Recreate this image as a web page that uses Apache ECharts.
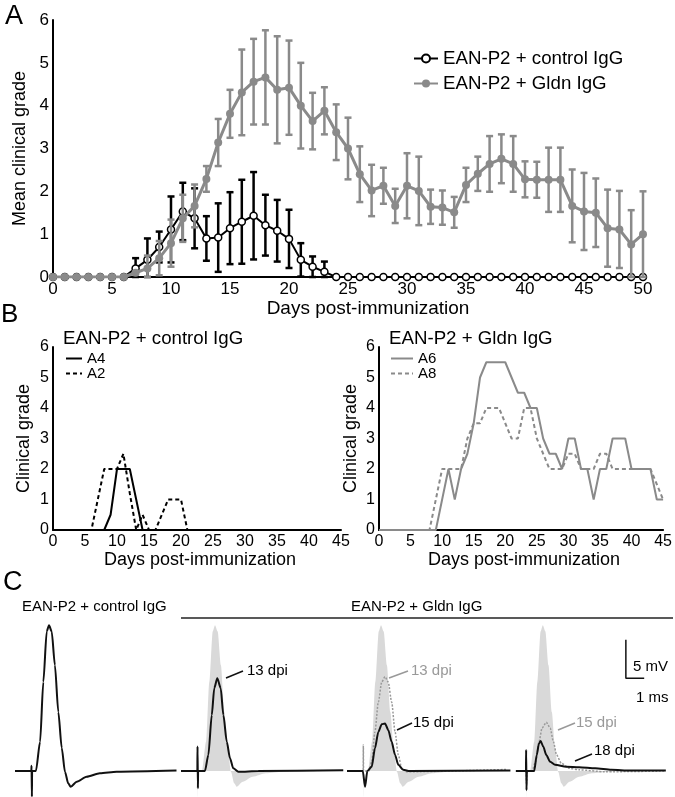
<!DOCTYPE html>
<html>
<head>
<meta charset="utf-8">
<script src="https://cdn.jsdelivr.net/npm/echarts@6/dist/echarts.min.js"></script>
<style>
  html, body { margin: 0; padding: 0; background: #fff; }
  #chart { width: 675px; height: 797px; }
</style>
</head>
<body>
<div id="chart"></div>
<script>
// ---- Panel A: mean clinical grade, index = day (0..50)
const controlMean = [0, 0, 0, 0, 0, 0, 0, 0.2, 0.4, 0.7, 1.11, 1.53, 1.37, 0.9, 0.92, 1.14, 1.29, 1.43, 1.21, 1.08, 0.89, 0.4, 0.24, 0.12,
  0, 0, 0, 0, 0, 0, 0, 0, 0, 0, 0, 0, 0, 0, 0, 0, 0, 0, 0, 0, 0, 0, 0, 0, 0, 0, 0];
const controlErr = [0, 0, 0, 0, 0, 0, 0, 0.24, 0.5, 0.36, 0.77, 0.67, 0.7, 0.52, 0.8, 0.84, 0.98, 1.02, 0.71, 0.72, 0.68, 0.39, 0.24, 0.24,
  0, 0, 0, 0, 0, 0, 0, 0, 0, 0, 0, 0, 0, 0, 0, 0, 0, 0, 0, 0, 0, 0, 0, 0, 0, 0, 0];
const gldnMean = [0, 0, 0, 0, 0, 0, 0, 0.1, 0.2, 0.44, 0.79, 1.37, 1.66, 2.29, 3.14, 3.81, 4.31, 4.56, 4.66, 4.37, 4.42, 4.0, 3.64, 3.88,
  3.38, 3.0, 2.4, 2.02, 2.13, 1.66, 2.13, 2.01, 1.64, 1.62, 1.51, 2.15, 2.41, 2.64, 2.76, 2.64, 2.28, 2.27, 2.27, 2.27,
  1.66, 1.53, 1.5, 1.14, 1.11, 0.76, 1.0];
const gldnErr = [0, 0, 0, 0, 0, 0, 0, 0, 0.3, 0.4, 0.55, 0.55, 0.5, 0.3, 0.55, 0.56, 1.0, 1.0, 1.1, 1.25, 1.1, 1.0, 0.66, 0.55,
  0.65, 0.72, 0.65, 0.6, 0.42, 0.4, 0.76, 0.8, 0.4, 0.4, 0.36, 0.4, 0.4, 0.65, 0.57, 0.65, 0.42, 0.42, 0.75, 0.75,
  0.85, 0.9, 0.8, 0.9, 0.9, 0.8, 1.0];
const ticksA = { xMax: 50, xStep: 5, yMax: 6, yStep: 1 };

// ---- Panel B: individual animals, index = day (0..45)
const a4 = [0, 0, 0, 0, 0, 0, 0, 0, 0, 0.5, 2, 2, 2, 1, 0, 0, 0, 0, 0, 0, 0, 0, 0,
  0, 0, 0, 0, 0, 0, 0, 0, 0, 0, 0, 0, 0, 0, 0, 0, 0, 0, 0, 0, 0, 0, 0];
const a2 = [0, 0, 0, 0, 0, 0, 0, 1, 2, 2, 2, 2.5, 1.2, 0, 0.5, 0, 0, 0.5, 1, 1, 1, 0, 0,
  0, 0, 0, 0, 0, 0, 0, 0, 0, 0, 0, 0, 0, 0, 0, 0, 0, 0, 0, 0, 0, 0, 0];
const a6 = [0, 0, 0, 0, 0, 0, 0, 0, 0, 0, 1, 2, 1, 2, 2.5, 3.5, 5, 5.5, 5.5, 5.5, 5.5, 5, 4.5,
  4.5, 4, 4, 3, 2.5, 2.5, 2, 3, 3, 2, 2, 1, 2, 2, 3, 3, 3, 2, 2, 2, 2, 1, 1];
const a8 = [0, 0, 0, 0, 0, 0, 0, 0, 0, 1, 2, 2, 2, 2, 3, 3.5, 3.5, 4, 4, 4, 3.5, 3, 3,
  4, 4, 3, 2.5, 2, 2, 2, 2.5, 2.5, 2, 2, 2, 2.5, 2.5, 2, 2, 2, 2, 2, 2, 2, 1.5, 1];

// ---- Panel C: recorded traces, [ms, mV]
const ctrlTrace = [[0, 0], [0.86, 0], [0.87, 0.7], [0.89, -3.35], [0.9, 0], [1.1, 0], [1.32, 3.8], [1.49, 11.6], [1.67, 18.2],
  [1.79, 19.0], [1.93, 18.2], [2.1, 13.8], [2.28, 7.7], [2.46, 3.0], [2.63, -0.1], [2.8, -1.6], [2.93, -2.05], [3.25, -1.4],
  [3.77, -0.75], [4.47, -0.3], [5.35, -0.1], [8.5, 0.05]];
const dpi13Trace = [[0, 0], [0.86, 0], [0.87, 3.2], [0.89, -2.25], [0.9, 0], [1.26, 0], [1.44, 2.1], [1.62, 7.3], [1.75, 10.8],
  [1.91, 12.1], [2.09, 10.8], [2.23, 7.3], [2.41, 3.8], [2.58, 1.65], [2.75, 0.35], [3.02, -0.1], [4.07, 0], [8.54, 0.1]];
const dpi13bTrace = [[0, 0], [0.85, 0], [0.86, 3.4], [0.87, 0], [1.15, 0], [1.3, 1.2], [1.47, 5.1], [1.65, 9.0], [1.83, 11.6],
  [2.0, 12.3], [2.17, 11.6], [2.35, 9.0], [2.53, 5.1], [2.7, 2.1], [2.88, 0.35], [3.14, -0.1], [8.4, 0.2]];
const dpi15Trace = [[0, 0], [0.83, 0], [0.95, -2.05], [1.07, 0], [1.3, 0.55], [1.47, 2.95], [1.65, 5.1], [1.83, 6.1], [2.0, 6.2],
  [2.17, 5.35], [2.35, 3.8], [2.53, 2.1], [2.7, 0.8], [2.96, 0.15], [3.3, 0], [8.6, 0.05]];
const dpi15bTrace = [[0.32, 0], [0.88, 0], [0.9, -1.8], [0.93, 0], [1.2, 0], [1.4, 1.2], [1.58, 3.8], [1.75, 5.6], [1.98, 6.35],
  [2.19, 5.6], [2.37, 3.8], [2.54, 2.1], [2.8, 1.0], [3.25, 0.35], [3.77, 0.15], [5.17, -0.1], [8.5, 0]];
const dpi18Trace = [[0.32, 0], [0.87, 0], [0.88, 2.75], [0.9, -2.5], [0.92, 0], [1.32, 0], [1.46, 2.1], [1.58, 3.6], [1.67, 3.9],
  [1.81, 3.2], [1.98, 2.1], [2.19, 1.2], [2.46, 0.8], [3.07, 0.55], [3.77, 0.5], [4.65, 0.35], [5.53, 0.15], [6.58, 0.05], [8.5, 0.05]];
const scaleBar = { mV: 5, ms: 1, at: [6.32, 12.1] };

const FONT = '"Liberation Sans", Arial, sans-serif';
const GRAY = '#8a8a8a';
const LIGHT = '#d9d9d9';

const byDay = arr => arr.map((v, i) => [i, v]);
const withErr = (m, e) => m.map((v, i) => [i, v, e[i]]);

function errorBars(color) {
  return function (params, api) {
    const x = api.value(0), m = api.value(1), e = api.value(2);
    if (!e) return null;
    const top = api.coord([x, m + e]);
    const bot = api.coord([x, Math.max(0, m - e)]);
    const hw = 3.5;
    const st = { stroke: color, lineWidth: 2.5 };
    return {
      type: 'group',
      children: [
        { type: 'line', shape: { x1: top[0], y1: top[1], x2: bot[0], y2: bot[1] }, style: st },
        { type: 'line', shape: { x1: top[0] - hw, y1: top[1], x2: top[0] + hw, y2: top[1] }, style: st },
        { type: 'line', shape: { x1: bot[0] - hw, y1: bot[1], x2: bot[0] + hw, y2: bot[1] }, style: st }
      ]
    };
  };
}

function valueAxis(grid, max, step, name, fs, nameGap, nameFs, namePad) {
  return {
    type: 'value', gridIndex: grid, min: 0, max: max, interval: step,
    name: name, nameLocation: 'middle', nameGap: nameGap,
    nameTextStyle: { fontSize: nameFs, fontFamily: FONT, color: '#000', padding: namePad || 0 },
    axisLine: { show: true, lineStyle: { color: '#000', width: 2 } },
    axisTick: { show: false },
    splitLine: { show: false },
    axisLabel: { fontSize: fs, fontFamily: FONT, color: '#000', margin: 4 }
  };
}
function hiddenAxis(grid, min, max) {
  return { type: 'value', gridIndex: grid, min: min, max: max, show: false, splitLine: { show: false } };
}

// panel C grids: 19 px per ms, 7.67 px per mV, baseline at y = 771
const cTop = 600, cH = 197, mvMax = (771 - 600) / 7.67, mvMin = (771 - 797) / 7.67;
const cLefts = [15, 181, 347, 510];

function trace(name, grid, data, color, width, dash, z) {
  return { name: name, type: 'line', xAxisIndex: grid, yAxisIndex: grid, data: data, symbol: 'none', z: z,
    smooth: 0.25, smoothMonotone: 'x',
    lineStyle: { color: color, width: width, type: dash || 'solid' } };
}

const chart = echarts.init(document.getElementById('chart'));
const option = {
  animation: false,
  backgroundColor: '#fff',
  textStyle: { fontFamily: FONT },
  grid: [
    { left: 53, top: 20, width: 590, height: 257 },
    { left: 53, top: 347, width: 288, height: 183 },
    { left: 379, top: 347, width: 286, height: 183 }
  ].concat(cLefts.map(l => ({ left: l, top: cTop, width: 171, height: cH }))),
  xAxis: [
    valueAxis(0, ticksA.xMax, ticksA.xStep, 'Days post-immunization', 17, 15, 19, [0, 0, 0, 40]),
    valueAxis(1, 45, 5, 'Days post-immunization', 16, 12, 18, [0, 0, 0, 6]),
    valueAxis(2, 45, 5, 'Days post-immunization', 16, 12, 18, [0, 0, 0, 6])
  ].concat(cLefts.map((l, i) => hiddenAxis(3 + i, 0, 9))),
  yAxis: [
    valueAxis(0, ticksA.yMax, ticksA.yStep, 'Mean clinical grade', 17, 20, 18),
    valueAxis(1, 6, 1, 'Clinical grade', 16, 20, 18),
    valueAxis(2, 6, 1, 'Clinical grade', 16, 19, 18)
  ].concat(cLefts.map((l, i) => hiddenAxis(3 + i, mvMin, mvMax))),
  legend: [
    {
      left: 413, top: 49, orient: 'vertical', itemWidth: 24, itemHeight: 10, itemGap: 6, padding: 0,
      textStyle: { fontSize: 18.7, fontFamily: FONT, color: '#000' },
      data: ['EAN-P2 + control IgG', 'EAN-P2 + Gldn IgG']
    },
    {
      left: 65, top: 351, orient: 'vertical', itemWidth: 16, itemHeight: 8, itemGap: 0, padding: 0,
      itemStyle: { opacity: 0 },
      textStyle: { fontSize: 15, lineHeight: 11, fontFamily: FONT, color: '#000' },
      data: ['A4', 'A2']
    },
    {
      left: 390, top: 351, orient: 'vertical', itemWidth: 22, itemHeight: 8, itemGap: 0, padding: 0,
      itemStyle: { opacity: 0 },
      textStyle: { fontSize: 15, lineHeight: 11, fontFamily: FONT, color: '#000' },
      data: ['A6', 'A8']
    }
  ],
  series: [
    // Panel A
    { name: 'ctrlErr', type: 'custom', xAxisIndex: 0, yAxisIndex: 0, z: 2, renderItem: errorBars('#000'),
      data: withErr(controlMean, controlErr), encode: { x: 0, y: 1 } },
    { name: 'EAN-P2 + control IgG', type: 'line', xAxisIndex: 0, yAxisIndex: 0, z: 3,
      data: byDay(controlMean), symbol: 'circle', symbolSize: 7,
      lineStyle: { color: '#000', width: 2 },
      itemStyle: { color: '#fff', borderColor: '#000', borderWidth: 1.5 } },
    { name: 'gldnErr', type: 'custom', xAxisIndex: 0, yAxisIndex: 0, z: 4, renderItem: errorBars(GRAY),
      data: withErr(gldnMean, gldnErr), encode: { x: 0, y: 1 } },
    { name: 'EAN-P2 + Gldn IgG', type: 'line', xAxisIndex: 0, yAxisIndex: 0, z: 5,
      data: byDay(gldnMean), symbol: 'circle', symbolSize: 8,
      lineStyle: { color: GRAY, width: 3 },
      itemStyle: { color: GRAY, borderColor: GRAY, borderWidth: 0 } },
    // Panel B
    { name: 'A4', type: 'line', xAxisIndex: 1, yAxisIndex: 1, data: byDay(a4), symbol: 'none',
      lineStyle: { color: '#000', width: 2 }, itemStyle: { color: '#000' } },
    { name: 'A2', type: 'line', xAxisIndex: 1, yAxisIndex: 1, data: byDay(a2), symbol: 'none',
      lineStyle: { color: '#000', width: 2, type: [4, 3] }, itemStyle: { color: '#000' } },
    { name: 'A6', type: 'line', xAxisIndex: 2, yAxisIndex: 2, data: byDay(a6), symbol: 'none',
      lineStyle: { color: GRAY, width: 2 }, itemStyle: { color: GRAY } },
    { name: 'A8', type: 'line', xAxisIndex: 2, yAxisIndex: 2, data: byDay(a8), symbol: 'none',
      lineStyle: { color: GRAY, width: 2, type: [4, 3] }, itemStyle: { color: GRAY } },
    // Panel C
    trace('ctrl', 3, ctrlTrace, '#111', 2, null, 3),
    ...[4, 5, 6].map(g => ({ name: 'ctrlFill' + g, type: 'line', xAxisIndex: g, yAxisIndex: g, data: ctrlTrace,
      symbol: 'none', z: 1, smooth: 0.25, smoothMonotone: 'x',
      lineStyle: { width: 0, color: LIGHT }, areaStyle: { color: LIGHT, opacity: 1 } })),
    trace('13 dpi', 4, dpi13Trace, '#111', 2, null, 3),
    trace('13 dpi b', 5, dpi13bTrace, '#999', 1.5, [2, 1.5], 2),
    trace('15 dpi', 5, dpi15Trace, '#111', 2, null, 3),
    trace('15 dpi b', 6, dpi15bTrace, '#999', 1.5, [2, 1.5], 2),
    trace('18 dpi', 6, dpi18Trace, '#111', 2, null, 3),
    { name: 'scale', type: 'line', xAxisIndex: 6, yAxisIndex: 6, symbol: 'none', z: 3,
      data: [[scaleBar.at[0], scaleBar.at[1] + scaleBar.mV], scaleBar.at, [scaleBar.at[0] + scaleBar.ms, scaleBar.at[1]]],
      lineStyle: { color: '#111', width: 1.5 } }
  ],
  graphic: [
    { type: 'text', x: 5, y: 3, style: { text: 'A', fontSize: 27, fontFamily: FONT, fill: '#000' } },
    { type: 'text', x: 1, y: 302, style: { text: 'B', fontSize: 26, fontFamily: FONT, fill: '#000' } },
    { type: 'text', x: 3, y: 569, style: { text: 'C', fontSize: 27, fontFamily: FONT, fill: '#000' } },
    { type: 'text', x: 63, y: 339, style: { text: 'EAN-P2 + control IgG', fontSize: 18.7, fontFamily: FONT, fill: '#000', verticalAlign: 'middle' } },
    { type: 'text', x: 389, y: 339, style: { text: 'EAN-P2 + Gldn IgG', fontSize: 18.7, fontFamily: FONT, fill: '#000', verticalAlign: 'middle' } },
    { type: 'text', x: 22, y: 607, style: { text: 'EAN-P2 + control IgG', fontSize: 15, fontFamily: FONT, fill: '#000', verticalAlign: 'middle' } },
    { type: 'text', x: 351, y: 607, style: { text: 'EAN-P2 + Gldn IgG', fontSize: 15, fontFamily: FONT, fill: '#000', verticalAlign: 'middle' } },
    { type: 'line', shape: { x1: 181, y1: 618, x2: 673, y2: 618 }, style: { stroke: '#222', lineWidth: 1.5 } },
    { type: 'line', shape: { x1: 226, y1: 678, x2: 243, y2: 671 }, style: { stroke: '#111', lineWidth: 1.5 } },
    { type: 'text', x: 247, y: 671, style: { text: '13 dpi', fontSize: 15, fontFamily: FONT, fill: '#000', verticalAlign: 'middle' } },
    { type: 'line', shape: { x1: 389, y1: 678, x2: 408, y2: 671 }, style: { stroke: '#999', lineWidth: 1.5 } },
    { type: 'text', x: 411, y: 671, style: { text: '13 dpi', fontSize: 15, fontFamily: FONT, fill: '#999', verticalAlign: 'middle' } },
    { type: 'line', shape: { x1: 397, y1: 730, x2: 412, y2: 723 }, style: { stroke: '#111', lineWidth: 1.5 } },
    { type: 'text', x: 413, y: 723, style: { text: '15 dpi', fontSize: 15, fontFamily: FONT, fill: '#000', verticalAlign: 'middle' } },
    { type: 'line', shape: { x1: 558, y1: 730, x2: 575, y2: 723 }, style: { stroke: '#999', lineWidth: 1.5 } },
    { type: 'text', x: 576, y: 723, style: { text: '15 dpi', fontSize: 15, fontFamily: FONT, fill: '#999', verticalAlign: 'middle' } },
    { type: 'line', shape: { x1: 575, y1: 761, x2: 592, y2: 754 }, style: { stroke: '#111', lineWidth: 1.5 } },
    { type: 'text', x: 594, y: 751, style: { text: '18 dpi', fontSize: 15, fontFamily: FONT, fill: '#000', verticalAlign: 'middle' } },
    { type: 'text', x: 633, y: 667, style: { text: '5 mV', fontSize: 15, fontFamily: FONT, fill: '#000', verticalAlign: 'middle' } },
    { type: 'text', x: 636, y: 698, style: { text: '1 ms', fontSize: 15, fontFamily: FONT, fill: '#000', verticalAlign: 'middle' } }
  ]
};
chart.setOption(option);
</script>
</body>
</html>
